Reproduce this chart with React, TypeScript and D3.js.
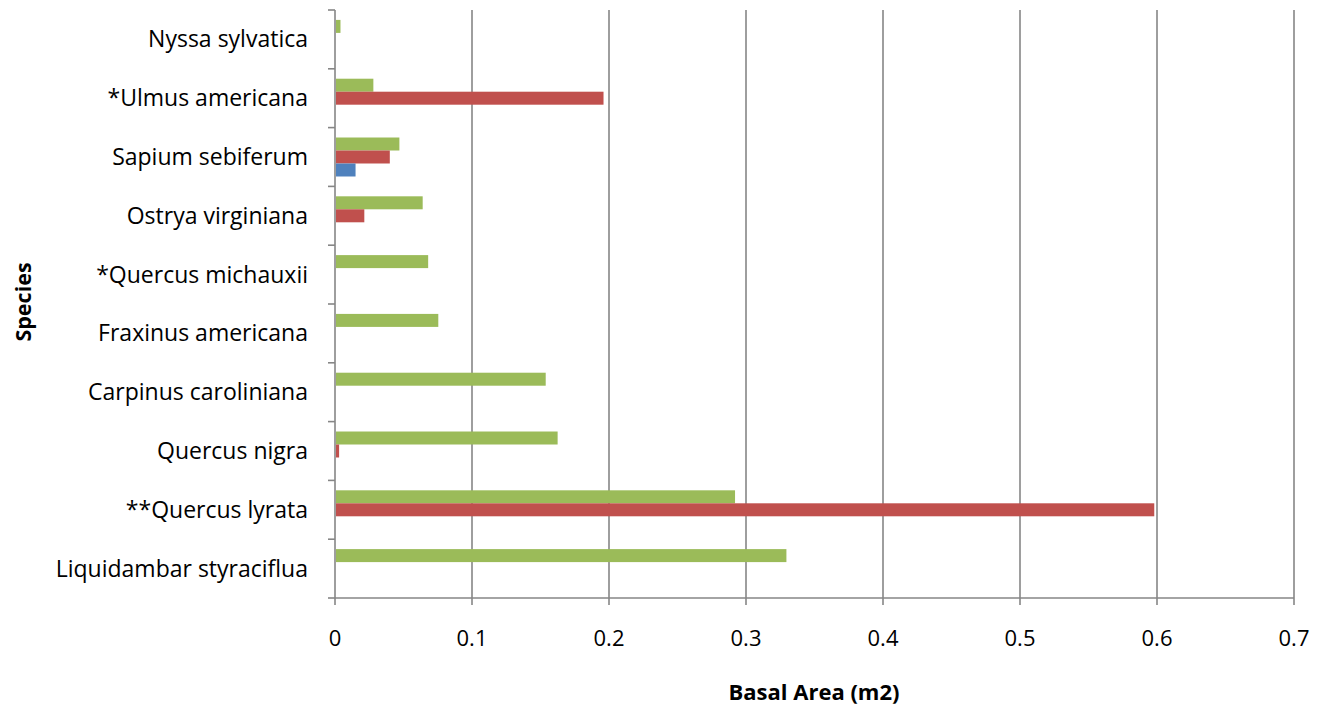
import React from "react";
import * as d3 from "d3";

const categories = [
  "Liquidambar styraciflua",
  "**Quercus lyrata",
  "Quercus nigra",
  "Carpinus caroliniana",
  "Fraxinus americana",
  "*Quercus michauxii",
  "Ostrya virginiana",
  "Sapium sebiferum",
  "*Ulmus americana",
  "Nyssa sylvatica",
];
const seriesBlue = [0, 0, 0, 0, 0, 0, 0, 0.015, 0, 0];
const seriesRed = [0, 0.598, 0.003, 0, 0, 0, 0.0214, 0.04, 0.196, 0];
const seriesGreen = [0.3295, 0.292, 0.1625, 0.1538, 0.0754, 0.068, 0.064, 0.047, 0.028, 0.004];
const xTicks = [0, 0.1, 0.2, 0.3, 0.4, 0.5, 0.6, 0.7];
const xTickLabels = ["0", "0.1", "0.2", "0.3", "0.4", "0.5", "0.6", "0.7"];
const seriesKeys = ["green", "red", "blue"];
const seriesColors: Record<string, string> = { blue: "#4F81BD", red: "#C0504D", green: "#9BBB59" };
const seriesData: Record<string, number[]> = { blue: seriesBlue, red: seriesRed, green: seriesGreen };

const W = 1325, H = 707;
const left = 335, right = 1294, top = 10, bottom = 598;
const FONT = "'Open Sans', Lato, sans-serif";
const GRID = "#868686";

export default function App() {
  const x = d3.scaleLinear().domain([0, 0.7]).range([left, right]);
  const y = d3.scaleBand<string>().domain(categories).range([bottom, top]).paddingInner(0.337).paddingOuter(0.1685);
  const inner = d3.scaleBand<string>().domain(seriesKeys).range([0, y.bandwidth()]);
  const step = y.step();
  const boundaries = d3.range(categories.length + 1).map((i) => top + i * step);

  return (
    <svg width={W} height={H} style={{ position: "absolute", left: 0, top: 0, background: "#fff" }}>
      {xTicks.slice(1).map((t) => (
        <line key={"g" + t} x1={x(t)} x2={x(t)} y1={top} y2={bottom + 7} stroke={GRID} strokeWidth={1.6} />
      ))}
      <line x1={left} x2={right} y1={bottom} y2={bottom} stroke={GRID} strokeWidth={1.6} />
      <line x1={left} x2={left} y1={top} y2={bottom + 7} stroke={GRID} strokeWidth={1.6} />
      {boundaries.map((b, i) => (
        <line key={"t" + i} x1={left - 7} x2={left} y1={b} y2={b} stroke={GRID} strokeWidth={1.6} />
      ))}
      {categories.map((c, i) => (
        <g key={c} transform={`translate(0,${y(c)})`}>
          {seriesKeys.map((k) => {
            const v = seriesData[k][i];
            if (!v) return null;
            return (
              <rect key={k} x={x(0) + 1} y={inner(k)} width={x(v) - x(0) - 1} height={inner.bandwidth()} fill={seriesColors[k]} />
            );
          })}
        </g>
      ))}
      {categories.map((c) => (
        <text key={"l" + c} x={308} y={(y(c) as number) + y.bandwidth() / 2 + 8} textAnchor="end" fontFamily={FONT} fontSize={23} fill="#000">
          {c}
        </text>
      ))}
      {xTicks.map((t, i) => (
        <text key={"x" + t} x={x(t)} y={646} textAnchor="middle" fontFamily={FONT} fontSize={22} fill="#000">
          {xTickLabels[i]}
        </text>
      ))}
      <text x={814} y={700} textAnchor="middle" fontFamily={FONT} fontSize={22} fontWeight="bold" fill="#000">
        Basal Area (m2)
      </text>
      <text transform={`translate(31,${302}) rotate(-90)`} textAnchor="middle" fontFamily={FONT} fontSize={21.5} fontWeight="bold" fill="#000">
        Species
      </text>
    </svg>
  );
}
